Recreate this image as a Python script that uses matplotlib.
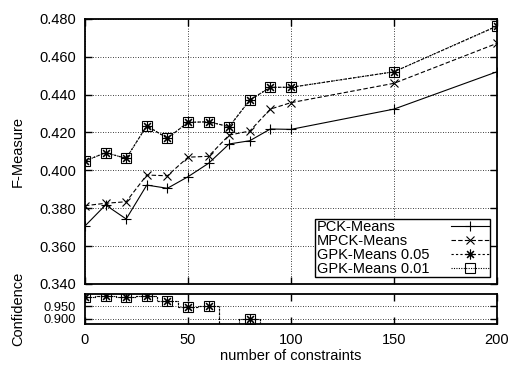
import numpy as np
import matplotlib
matplotlib.use("Agg")
import matplotlib.pyplot as plt

plt.rcParams['font.family'] = ['Liberation Sans', 'DejaVu Sans']
plt.rcParams['font.size'] = 10.5

# data
constraints = [0, 10, 20, 30, 40, 50, 60, 70, 80, 90, 100, 150, 200]
pck = [0.3706, 0.3817, 0.3743, 0.3922, 0.3905, 0.3966, 0.4037, 0.4139,
       0.4156, 0.4218, 0.4216, 0.4323, 0.4520]
mpck = [0.3813, 0.3826, 0.3834, 0.3975, 0.3971, 0.4069, 0.4074, 0.4186,
        0.4207, 0.4323, 0.4357, 0.4459, 0.4670]
gpk_05 = [0.4049, 0.4093, 0.4063, 0.4235, 0.4169, 0.4253, 0.4256, 0.4230,
          0.4371, 0.4438, 0.4438, 0.4520, 0.4761]
gpk_01 = [0.4049, 0.4093, 0.4063, 0.4235, 0.4169, 0.4253, 0.4256, 0.4230,
          0.4371, 0.4438, 0.4438, 0.4520, 0.4761]
conf_05 = [0.986, 0.991, 0.986, 0.991, 0.973, 0.948, 0.951, 0.85,
           0.900, 0.80, 0.75, 0.60, 0.50]
conf_01 = [0.986, 0.991, 0.986, 0.991, 0.973, 0.948, 0.951, 0.85,
           0.900, 0.80, 0.75, 0.60, 0.50]

xticks = [0, 50, 100, 150, 200]
fm_ticks = np.arange(0.34, 0.4801, 0.02)
conf_ticks = [0.90, 0.95]

fig = plt.figure(figsize=(5.11, 3.69), dpi=100)
ax = fig.add_axes([0.1663, 0.2304, 0.8063, 0.7189])
axc = fig.add_axes([0.1663, 0.1228, 0.8063, 0.0805])

lw = 0.8
star = (8, 2, 0)
styles = [
    dict(label='PCK-Means', ls='-', marker='+', ms=7),
    dict(label='MPCK-Means', ls=(0, (4, 2)), marker='x', ms=6),
    dict(label='GPK-Means 0.05', ls=(0, (2, 2)), marker=star, ms=7),
    dict(label='GPK-Means 0.01', ls=(0, (1, 1.2)), marker='s', ms=6.5,
         mfc='none'),
]
series = [pck, mpck, gpk_05, gpk_01]

for vals, st in zip(series, styles):
    ax.plot(constraints, vals, color='black', lw=lw, mec='black', mew=0.8, **st)

for vals, st in zip([conf_05, conf_01], styles[2:]):
    st = dict(st)
    st.pop('label')
    axc.plot(constraints, vals, color='black', lw=lw, mec='black', mew=0.8,
             drawstyle='steps-mid', **st)

for a in (ax, axc):
    a.set_xlim(0, 200)
    a.set_xticks(xticks)
    a.tick_params(direction='in', top=True, right=True, length=5, width=1,
                  labelsize=10.5, pad=6.5)
    for s in a.spines.values():
        s.set_linewidth(1.3)

ax.set_ylim(0.34, 0.48)
ax.set_yticks(fm_ticks)
ax.set_yticklabels([f'{v:.3f}' for v in fm_ticks])
ax.tick_params(labelbottom=False)
ax.grid(True, color='black', ls=(0, (1, 2)), lw=0.6)
ax.set_ylabel('F-Measure')
ax.yaxis.set_label_coords(-0.145, 0.5)

axc.set_ylim(0.88, 1.0)
axc.set_yticks(conf_ticks)
axc.set_yticklabels([f'{v:.3f}' for v in conf_ticks])
axc.tick_params(axis='y', labelsize=9.3)
axc.grid(True, axis='y', color='black', ls=(0, (1, 2)), lw=0.6)
axc.set_ylabel('Confidence')
axc.yaxis.set_label_coords(-0.145, 0.5)
axc.set_xlabel('number of constraints', labelpad=2)

fs = 10.5
textpad = 1.5
leg = ax.legend(loc='lower right', markerfirst=False, fancybox=False,
                edgecolor='black', framealpha=1, borderpad=0.1,
                labelspacing=0.0, handlelength=2.6, handletextpad=textpad,
                borderaxespad=0.45, fontsize=fs)
leg.get_frame().set_linewidth(1.0)

# gnuplot-style: labels left-aligned, samples in a column on the right
renderer = fig.canvas.get_renderer()
rows = leg._legend_handle_box.get_children()[0].get_children()
widths = [r.get_children()[0].get_window_extent(renderer).width for r in rows]
for r, w in zip(rows, widths):
    r.sep = textpad * fs + (max(widths) - w) * 72 / fig.dpi

fig.savefig('out.png', dpi=100)
